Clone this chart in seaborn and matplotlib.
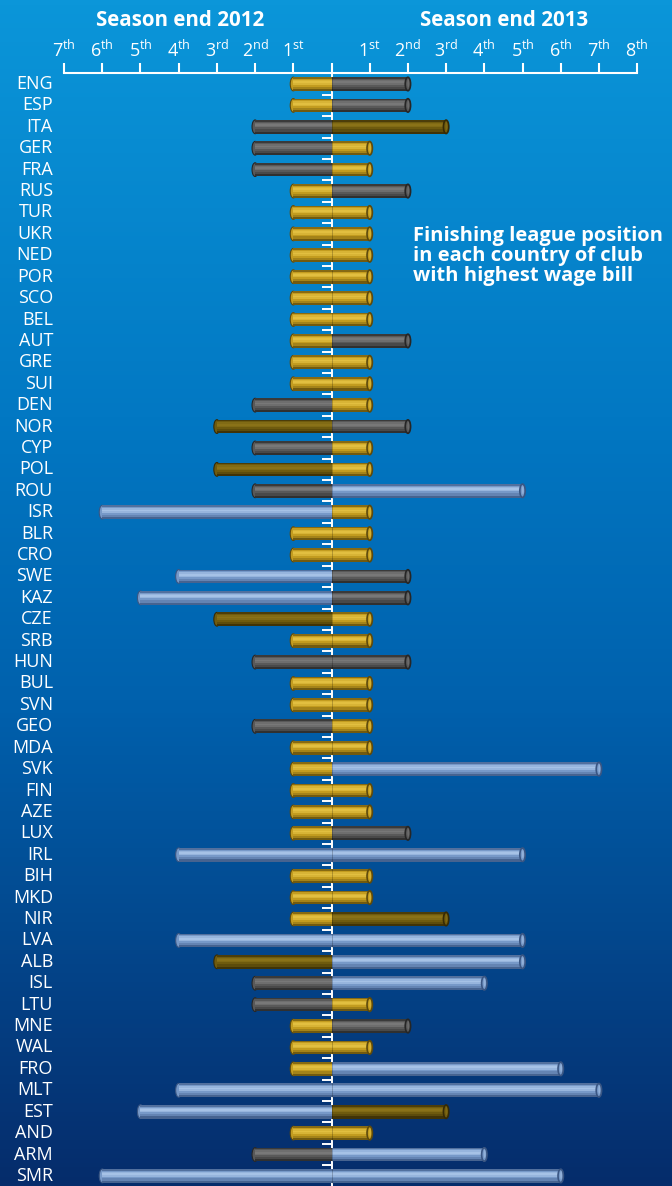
import numpy as np
import pandas as pd
import matplotlib
matplotlib.use("Agg")
import matplotlib.pyplot as plt
from matplotlib.colors import LinearSegmentedColormap
from matplotlib.patches import Ellipse
import seaborn as sns

# countries, top to bottom
countries = ["ENG", "ESP", "ITA", "GER", "FRA", "RUS", "TUR", "UKR", "NED", "POR",
             "SCO", "BEL", "AUT", "GRE", "SUI", "DEN", "NOR", "CYP", "POL", "ROU",
             "ISR", "BLR", "CRO", "SWE", "KAZ", "CZE", "SRB", "HUN", "BUL", "SVN",
             "GEO", "MDA", "SVK", "FIN", "AZE", "LUX", "IRL", "BIH", "MKD", "NIR",
             "LVA", "ALB", "ISL", "LTU", "MNE", "WAL", "FRO", "MLT", "EST", "AND",
             "ARM", "SMR"]

# league position of the top wage-bill club
pos_2012 = [1, 1, 2, 2, 2, 1, 1, 1, 1, 1,
            1, 1, 1, 1, 1, 2, 3, 2, 3, 2,
            6, 1, 1, 4, 5, 3, 1, 2, 1, 1,
            2, 1, 1, 1, 1, 1, 4, 1, 1, 1,
            4, 3, 2, 2, 1, 1, 1, 4, 5, 1,
            2, 6]
pos_2013 = [2, 2, 3, 1, 1, 2, 1, 1, 1, 1,
            1, 1, 2, 1, 1, 1, 2, 1, 1, 5,
            1, 1, 1, 2, 2, 1, 1, 2, 1, 1,
            1, 1, 7, 1, 1, 2, 5, 1, 1, 3,
            5, 5, 4, 1, 2, 1, 6, 7, 3, 1,
            4, 6]

left_ticks = [7, 6, 5, 4, 3, 2, 1]
right_ticks = [1, 2, 3, 4, 5, 6, 7, 8]
suffix = {1: "st", 2: "nd", 3: "rd"}


def cat(p):
    return str(p) if p <= 3 else "4+"


# tube colours: (edge, base, highlight)
tube = {
    "1": ("#5e4a0c", "#c39c1f", "#e2bf40"),
    "2": ("#262626", "#595959", "#787878"),
    "3": ("#352a06", "#6f5b0e", "#8a7218"),
    "4+": ("#3a5683", "#7799c8", "#a6c2e6"),
}
palette = {k: v[1] for k, v in tube.items()}

df = pd.DataFrame({
    "country": countries,
    "left": [-p for p in pos_2012],
    "right": pos_2013,
    "left_cat": [cat(p) for p in pos_2012],
    "right_cat": [cat(p) for p in pos_2013],
})

plt.rcParams["font.family"] = ["Open Sans", "DejaVu Sans"]
plt.rcParams["mathtext.fontset"] = "custom"
plt.rcParams["mathtext.rm"] = "Open Sans"
plt.rcParams["mathtext.bf"] = "Open Sans:bold"

W, H = 672, 1186
fig = plt.figure(figsize=(W / 100, H / 100), dpi=100)

# background gradient
bg = fig.add_axes([0, 0, 1, 1])
bg_cmap = LinearSegmentedColormap.from_list(
    "bg", [(0, "#0b96d9"), (0.35, "#0278c3"), (0.6, "#0060ac"), (1, "#062c6b")])
grad = np.linspace(0, 1, 256).reshape(-1, 1)
bg.imshow(grad, aspect="auto", cmap=bg_cmap, extent=[0, 1, 0, 1], origin="upper")
bg.set_axis_off()

# main axes: x unit = 38.2 px, centre at 331.5 px; rows every 21.41 px from 84 px
unit, cx = 38.2, 331.5
row0, drow = 84, 21.41
top_px = 72.5
ax = fig.add_axes([0, 0, 1, (H - top_px) / H])
ax.set_facecolor("none")

n = len(countries)
y = np.arange(n)
bh = 0.64

for col, ccol in [("left", "left_cat"), ("right", "right_cat")]:
    sns.barplot(data=df, x=col, y="country", hue=ccol, palette=palette,
                dodge=False, orient="h", width=bh, legend=False,
                errorbar=None, saturation=1, zorder=3, ax=ax)

# tube shading on top of the seaborn bars
for vals, cats in [(df["left"], df["left_cat"]), (df["right"], df["right_cat"])]:
    edge = [tube[c][0] for c in cats]
    hi = [tube[c][2] for c in cats]
    ax.barh(y - 0.28, vals, height=0.08, color=edge, zorder=3.1, alpha=0.6)
    ax.barh(y + 0.27, vals, height=0.10, color=edge, zorder=3.1, alpha=0.8)
    ax.barh(y + 0.17, vals, height=0.10, color=edge, zorder=3.1, alpha=0.3)
    ax.barh(y - 0.08, vals, height=0.22, color=hi, zorder=3.2, alpha=0.7)
    ax.barh(y - 0.08, vals, height=0.08, color=hi, zorder=3.3)

# rounded left ends and open right ends
for i in range(n):
    e, b, h = tube[df["left_cat"][i]]
    ax.add_patch(Ellipse((df["left"][i], i), 0.16, bh, facecolor=b,
                         edgecolor=e, lw=0.8, zorder=2.9))
    e, b, h = tube[df["right_cat"][i]]
    ax.add_patch(Ellipse((df["right"][i], i), 0.14, bh * 0.98, facecolor=b,
                         edgecolor=e, lw=1.2, zorder=3.5))
    ax.add_patch(Ellipse((df["right"][i] + 0.01, i - 0.03), 0.05, bh * 0.6,
                         facecolor=h, edgecolor="none", alpha=0.6, zorder=3.6))

# seam between the two seasons
ax.vlines([0] * n, y - bh / 2, y + bh / 2, color="#000000", lw=0.6, alpha=0.25,
          zorder=3.4)

# centre line and small ticks between rows
ax.axvline(0, color="white", lw=1.4, zorder=1)
ax.hlines(y[:-1] + 0.5, -0.24, 0, color="white", lw=1.4, zorder=1)

ax.set_xlim(-cx / unit, (W - cx) / unit)
ax.set_ylim((H - row0) / drow, (top_px - row0) / drow)

# top scale
for s in ["left", "right", "bottom"]:
    ax.spines[s].set_visible(False)
ax.spines["top"].set_bounds(-7, 8)
ax.spines["top"].set_color("white")
ax.spines["top"].set_linewidth(1.5)
ticks = [-t for t in left_ticks] + [0] + right_ticks
labels = [rf"{t}$^{{\mathrm{{{suffix.get(t, 'th')}}}}}$" for t in left_ticks] + [""] + \
         [rf"{t}$^{{\mathrm{{{suffix.get(t, 'th')}}}}}$" for t in right_ticks]
ax.set_xticks(ticks)
ax.set_xticklabels(labels)
ax.xaxis.set_ticks_position("top")
ax.xaxis.set_label_position("top")
ax.tick_params(axis="x", direction="out", length=7.5, width=1.5, color="white",
               labelcolor="white", labelsize=13, pad=1)
ax.tick_params(axis="y", left=False, labelleft=False)
ax.set_xlabel("")
ax.set_ylabel("")

# country names
for i, c in enumerate(countries):
    ax.text((53 - cx) / unit, i, c, ha="right", va="center", color="white",
            fontsize=13)

fig.text(180 / W, 1 - 20 / H, "Season end 2012", ha="center", va="center",
         color="white", fontsize=14.8, fontweight="bold")
fig.text(504 / W, 1 - 20 / H, "Season end 2013", ha="center", va="center",
         color="white", fontsize=14.8, fontweight="bold")
fig.text(413 / W, 1 - 226 / H,
         "Finishing league position\nin each country of club\nwith highest wage bill",
         ha="left", va="top", color="white", fontsize=14.5, fontweight="bold",
         linespacing=1.0)

fig.savefig("out.png", dpi=100)
